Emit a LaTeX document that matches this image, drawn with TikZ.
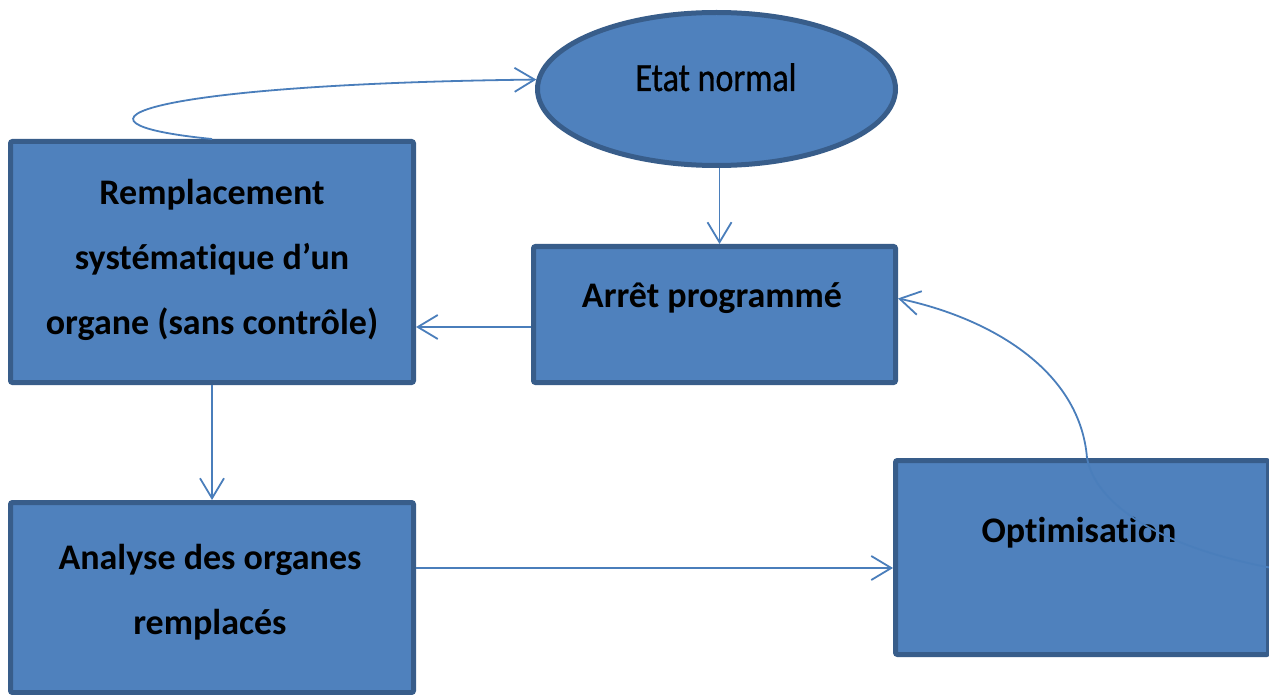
\documentclass[tikz,border=0pt]{standalone}
\usepackage{fontspec}
\setmainfont{Carlito}[Ligatures=NoCommon]
\newfontfamily\narrowfont{Carlito}[FakeStretch=0.85, FakeBold=0.8, Ligatures=NoCommon]
\usetikzlibrary{arrows.meta,shapes.geometric}
\definecolor{boxfill}{HTML}{4F81BD}
\definecolor{boxedge}{HTML}{385D8A}
\definecolor{linkcol}{HTML}{4A7EBB}
\tikzset{
  stepbox/.style={draw=boxedge, fill=boxfill, line width=5pt, rectangle,
    rounded corners=2pt, inner sep=0pt},
  statebox/.style={draw=boxedge, fill=boxfill, line width=5pt, ellipse,
    inner sep=0pt},
  boxtext/.style={font=\fontsize{36}{65}\selectfont\bfseries, align=center,
    inner sep=0pt, text=black},
  link/.style={draw=linkcol, line width=1.8pt,
    -{Straight Barb[length=20pt,width=24pt]}}
}
\begin{document}
\begin{tikzpicture}[x=1pt,y=-1pt]
\useasboundingbox (0,0) rectangle (1269,695);
\fill[white] (0,0) rectangle (1269,695);

% shapes
\node[statebox, minimum width=358pt, minimum height=153pt] (et) at (716.5,89) {};
\node[stepbox, minimum width=403pt, minimum height=241pt] (rep) at (212,262) {};
\node[stepbox, minimum width=362pt, minimum height=136pt] (arr) at (714.5,314.5) {};
\node[stepbox, minimum width=403pt, minimum height=190pt] (ana) at (212,597.5) {};
\node[stepbox, minimum width=373pt, minimum height=194pt] (opt) at (1082,557.5) {};

% texts
\node[inner sep=0pt, anchor=base, font=\narrowfont\fontsize{40}{48}\selectfont] (etT) at (716,91) {Etat normal};
\node[boxtext] (repT) at (212,260) {Remplacement\\systématique d’un\\organe (sans contrôle)};
\node[boxtext, anchor=base] (arrT) at (712,307) {Arrêt programmé};
\node[boxtext] (anaT) at (210,592) {Analyse des organes\\remplacés};
\node[boxtext, anchor=base] (optT) at (1079,542) {Optimisation};

% connectors
\coordinate (optOut) at (1272,568);
\draw[link] ([xshift=3pt]et.south) -- ([xshift=3pt]et.south |- arr.north);
\draw[link] ([yshift=-12.5pt]arr.west) -- ([yshift=-12.5pt]arr.west -| rep.east);
\draw[link] (rep.south) -- (ana.north);
\draw[link] ([yshift=29.5pt]ana.east) -- ([yshift=29.5pt]ana.east -| opt.west);
\draw[link] (rep.north) .. controls (40,122) and (150,84) .. (et.177);
\draw[link] (optOut) .. controls (1150,545) and (1095,500) .. ([xshift=5pt]opt.north)
  .. controls (1080,370) and (990,318) .. (arr.5);
\end{tikzpicture}
\end{document}
